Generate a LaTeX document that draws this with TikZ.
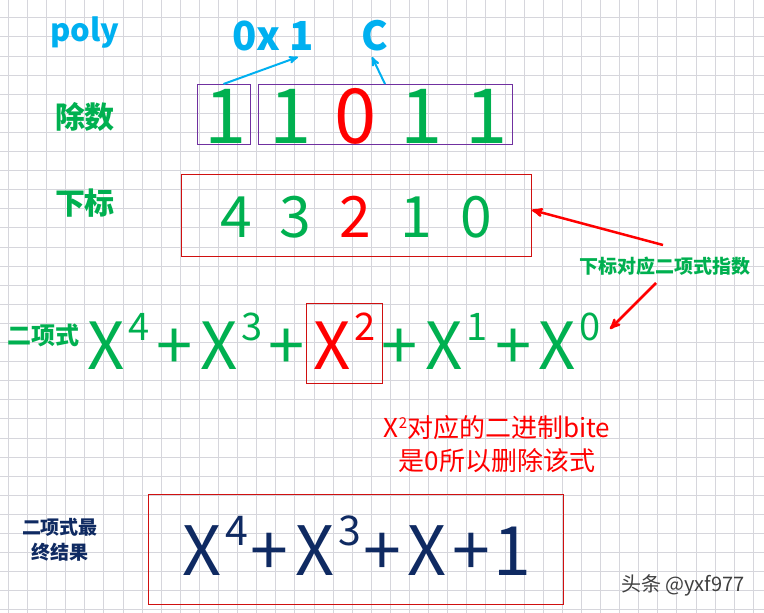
\documentclass[tikz,border=0pt]{standalone}
\usepackage{fontspec}
\setmainfont{Noto Sans CJK SC}
\usetikzlibrary{arrows,positioning}
\definecolor{hexblue}{HTML}{00B0F0}
\definecolor{bitgreen}{HTML}{00B050}
\definecolor{bitred}{HTML}{FF0000}
\definecolor{boxpurple}{HTML}{7030A0}
\definecolor{boxred}{HTML}{D01010}
\definecolor{resultnavy}{HTML}{0F2A62}
\definecolor{gridgray}{HTML}{D6D6DC}
\newcommand{\fs}[1]{\fontsize{#1}{#1}\selectfont}
\newcommand{\xsup}[3]{X\hspace{4pt}\raisebox{#1}{\fs{#2}#3}}
\tikzset{
	rowtag/.style   = {font=\fs{30}\bfseries, text=bitgreen, inner sep=0pt},
	hexdigit/.style = {font=\fs{40}\bfseries, text=hexblue, inner sep=0pt},
	bit/.style      = {font=\fs{76}, text=bitgreen, inner sep=0pt, anchor=base},
	idx/.style      = {font=\fs{57}, text=bitgreen, inner sep=0pt, anchor=base},
	term/.style     = {font=\fs{65}, text=bitgreen, inner sep=0pt, anchor=base west},
	plus/.style     = {font=\fs{65}, text=bitgreen, inner sep=0pt, anchor=base},
	bitframe/.style = {draw, line width=1pt, inner sep=0pt, outer sep=0pt},
	hexarrow/.style = {draw=hexblue, line width=2pt, -stealth'},
	notearrow/.style= {draw=bitred, line width=2.5pt, -stealth'},
	gridline/.style = {draw=gridgray, line width=0.8pt},
}

\begin{document}
\begin{tikzpicture}[x=1pt, y=-1pt]
\useasboundingbox (0,0) rectangle (764,613);
\fill[white] (0,0) rectangle (764,613);
% squared paper
\foreach \i in {0,...,39}
	\draw[gridline] ({8.3+19.1*\i},0) -- ({8.3+19.1*\i},613);
\foreach \j in {0,...,31}
	\draw[gridline] (0,{17.7+19.1*\j}) -- (764,{17.7+19.1*\j});

% row tags
\node [hexdigit, font=\fs{31}\bfseries] (poly) at (85,33) {poly};
\node [rowtag] (divisor) at (85,117) {除数};
\node [rowtag] (index) at (85,203) {下标};
\node [rowtag, font=\fs{24}\bfseries] (binom) at (44,335) {二项式};
\node [rowtag, font=\fs{19}\bfseries, text=resultnavy, align=center,
	execute at begin node=\setlength{\baselineskip}{25pt}] (result) at (60,540) {二项式最\\终结果};

% hex value
\node [hexdigit] (hexone) at (273,36) {0x 1};
\node [hexdigit] (hexc) at (375,36) {C};

% divisor bits
\node [bitframe, draw=boxpurple, minimum width=53, minimum height=60] (topbit) at (223.5,114) {};
\node [bitframe, draw=boxpurple, minimum width=254, minimum height=60] (lowbits) at (385,114) {};
\node [bit] (b4) at (226,143) {1};
\node [bit] (b3) at (291,143) {1};
\node [bit, text=bitred] (b2) at (356,143) {0};
\node [bit] (b1) at (422,143) {1};
\node [bit] (b0) at (487,143) {1};

% indices
\node [bitframe, draw=boxred, minimum width=350, minimum height=82] (idxbox) at (356,215) {};
\node [idx] (i4) at (236,237) {4};
\node [idx] (i3) at (295,237) {3};
\node [idx, text=bitred] (i2) at (355,237) {2};
\node [idx] (i1) at (416,237) {1};
\node [idx] (i0) at (476,237) {0};

% binomial terms
\node [term] (x4) at (87,369) {\xsup{29pt}{38}{4}};
\node [plus] (p1) at (175,369) {+};
\node [term] (x3) at (200,369) {\xsup{29pt}{38}{3}};
\node [plus] (p2) at (287,369) {+};
\node [term, text=bitred] (x2) at (313,369) {\xsup{29pt}{38}{2}};
\node [bitframe, draw=boxred, minimum width=76, minimum height=80] (x2box) at (344,343) {};
\node [plus] (p3) at (400,369) {+};
\node [term] (x1) at (425,369) {\xsup{29pt}{38}{1}};
\node [plus] (p4) at (514,369) {+};
\node [term] (x0) at (538,369) {\xsup{29pt}{38}{0}};

% notes
\node [rowtag, font=\fs{19}\bfseries] (hint) at (665,266) {下标对应二项式指数};
\node [font=\fs{26}, text=bitred, align=center, inner sep=0pt,
	execute at begin node=\setlength{\baselineskip}{33pt}] (why) at (497,444)
	{X\raisebox{9pt}{\fs{15}2}对应的二进制bite\\是0所以删除该式};

% result
\node [bitframe, draw=boxred, minimum width=415, minimum height=110] (resbox) at (355.5,549) {};
\node [term, text=resultnavy, font=\fs{68}] (r4) at (182,575) {\xsup{30pt}{41}{4}};
\node [plus, text=resultnavy, font=\fs{68}] (rp1) at (269,575) {+};
\node [term, text=resultnavy, font=\fs{68}] (r3) at (295,575) {\xsup{30pt}{41}{3}};
\node [plus, text=resultnavy, font=\fs{68}] (rp2) at (382,575) {+};
\node [term, text=resultnavy, font=\fs{68}] (r1) at (407,575) {X};
\node [plus, text=resultnavy, font=\fs{68}] (rp3) at (471,575) {+};
\node [plus, text=resultnavy, font=\fs{68}] (r0) at (512,575) {1};

\node [font=\fs{20}, text=black!75, inner sep=0pt] (mark) at (683,585) {头条 @yxf977};

% arrows
\coordinate (hexonetip) at (298,57);
\coordinate (hexctip) at (372,57);
\coordinate (hinttop) at (663,245);
\coordinate (hintbot) at (656,283);
\coordinate (idxtip) at (532,210);
\coordinate (x0tip) at (610,329);
\draw [hexarrow] (topbit.north) -- (hexonetip);
\draw [hexarrow] (lowbits.north) -- (hexctip);
\draw [notearrow] (hinttop) -- (idxtip);
\draw [notearrow] (hintbot) -- (x0tip);
\end{tikzpicture}
\end{document}
